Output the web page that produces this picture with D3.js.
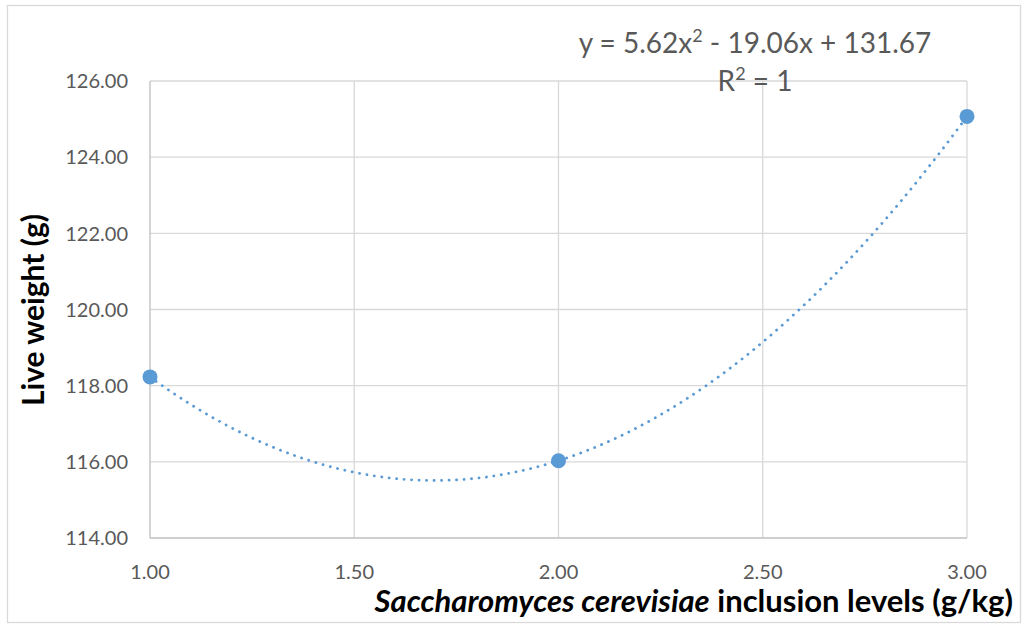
<!DOCTYPE html>
<html>
<head>
<meta charset="utf-8">
<script src="https://cdn.jsdelivr.net/npm/d3@7"></script>
<style>
  body { margin: 0; background: #fff; }
  svg { display: block; }
  text { font-family: Lato, "Open Sans", sans-serif; fill: #595959; }
</style>
</head>
<body>
<div id="chart"></div>
<script>
// data
var levels = [1.00, 2.00, 3.00];
var weights = [118.23, 116.03, 125.07];
// trendline coefficients from the equation label (a, b, c)
var trendCoef = [5.62, -19.06, 131.67];
var xTicks = [1.00, 1.50, 2.00, 2.50, 3.00];
var yTicks = [114, 116, 118, 120, 122, 124, 126];
var equationText = ["y = 5.62x", "2", " - 19.06x + 131.67"];
var r2Text = ["R", "2", " = 1"];

var W = 1025, H = 627;
var margin = {left: 150, right: 58, top: 81, bottom: 89};

var svg = d3.select("#chart").append("svg")
    .attr("width", W)
    .attr("height", H);

// chart border
svg.append("rect")
    .attr("x", 7.5).attr("y", 5.5)
    .attr("width", 1013).attr("height", 617)
    .attr("fill", "#fff")
    .attr("stroke", "#D9D9D9")
    .attr("stroke-width", 1.3);

var x = d3.scaleLinear().domain([1, 3]).range([margin.left, W - margin.right]);
var y = d3.scaleLinear().domain([114, 126]).range([H - margin.bottom, margin.top]);

// grid lines
var grid = svg.append("g");
grid.selectAll("line.h")
    .data(yTicks.slice(1))
    .enter().append("line")
    .attr("class", "h")
    .attr("x1", x(1)).attr("x2", x(3))
    .attr("y1", function(d) { return y(d); })
    .attr("y2", function(d) { return y(d); })
    .attr("stroke", "#D9D9D9").attr("stroke-width", 1.3);
grid.selectAll("line.v")
    .data(xTicks.slice(1))
    .enter().append("line")
    .attr("class", "v")
    .attr("y1", y(114)).attr("y2", y(126))
    .attr("x1", function(d) { return x(d); })
    .attr("x2", function(d) { return x(d); })
    .attr("stroke", "#D9D9D9").attr("stroke-width", 1.3);

// axis lines
svg.append("line")
    .attr("x1", x(1)).attr("x2", x(1))
    .attr("y1", y(114)).attr("y2", y(126))
    .attr("stroke", "#BFBFBF").attr("stroke-width", 1.3);
svg.append("line")
    .attr("x1", x(1)).attr("x2", x(3))
    .attr("y1", y(114)).attr("y2", y(114))
    .attr("stroke", "#BFBFBF").attr("stroke-width", 1.3);

// tick labels
svg.append("g").selectAll("text")
    .data(yTicks)
    .enter().append("text")
    .attr("x", 128)
    .attr("y", function(d) { return y(d); })
    .attr("dy", "0.36em")
    .attr("text-anchor", "end")
    .style("font-size", "20px")
    .text(function(d) { return d3.format(".2f")(d); });

svg.append("g").selectAll("text")
    .data(xTicks)
    .enter().append("text")
    .attr("x", function(d) { return x(d); })
    .attr("y", 579)
    .attr("text-anchor", "middle")
    .style("font-size", "20px")
    .text(function(d) { return d3.format(".2f")(d); });

// axis titles
var xt = svg.append("text")
    .attr("x", 1013)
    .attr("y", 612)
    .attr("text-anchor", "end")
    .style("font-size", "31px")
    .style("font-weight", "bold")
    .style("fill", "#000");
xt.append("tspan").style("font-style", "italic").text("Saccharomyces cerevisiae");
xt.append("tspan").text(" inclusion levels (g/kg)");

svg.append("text")
    .attr("transform", "translate(44," + 310 + ") rotate(-90)")
    .attr("text-anchor", "middle")
    .style("font-size", "30px")
    .style("font-weight", "bold")
    .style("fill", "#000")
    .text("Live weight (g)");

// trendline
var trendX = d3.range(0, 201).map(function(i) { return 1 + i / 100; });
var poly = function(v) { return trendCoef[0] * v * v + trendCoef[1] * v + trendCoef[2]; };
var line = d3.line()
    .x(function(d) { return x(d); })
    .y(function(d) { return y(poly(d)); })
    .curve(d3.curveMonotoneX);
svg.append("path")
    .datum(trendX)
    .attr("d", line)
    .attr("fill", "none")
    .attr("stroke", "#5B9BD5")
    .attr("stroke-width", 2.8)
    .attr("stroke-linecap", "round")
    .attr("stroke-dasharray", "0.1 7.4");

// markers
svg.append("g").selectAll("circle")
    .data(levels)
    .enter().append("circle")
    .attr("cx", function(d) { return x(d); })
    .attr("cy", function(d, i) { return y(weights[i]); })
    .attr("r", 7.5)
    .attr("fill", "#5B9BD5");

// equation label
function supText(parts, cx, cy) {
    var t = svg.append("text")
        .attr("x", cx).attr("y", cy)
        .attr("text-anchor", "middle")
        .style("font-size", "28px");
    t.append("tspan").text(parts[0]);
    t.append("tspan").attr("dy", -11).style("font-size", "18px").text(parts[1]);
    t.append("tspan").attr("dy", 11).text(parts[2]);
}
supText(equationText, 755, 53);
supText(r2Text, 755, 91);
</script>
</body>
</html>
